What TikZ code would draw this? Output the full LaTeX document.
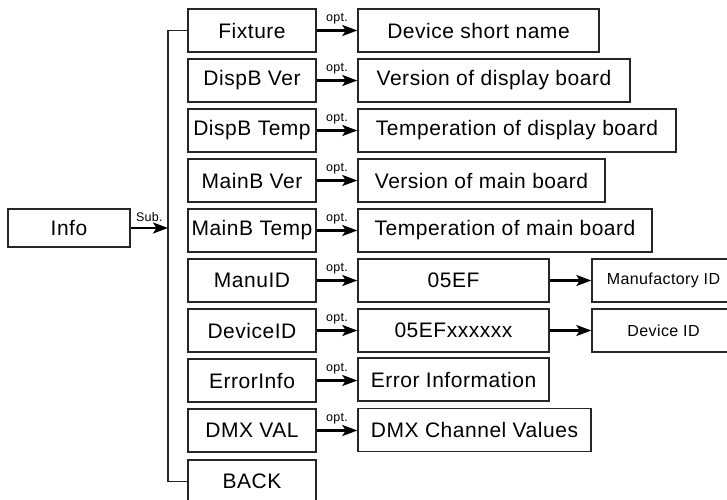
\documentclass[tikz,border=0pt]{standalone}
\usepackage{fontspec}
\setmainfont{Liberation Sans}[LetterSpace=2.5]
\usetikzlibrary{arrows.meta,calc}
\begin{document}
\begin{tikzpicture}[x=1pt,y=-1pt,
  box/.style={draw=black!85,line width=1.4pt,minimum height=43pt,inner sep=0pt,font=\fontsize{21}{23}\selectfont},
  smallbox/.style={box,font=\fontsize{16}{18}\selectfont},
  arr/.style={line width=2.3pt,-{Stealth[length=15pt,width=11pt,inset=3.5pt]}},
  lbl/.style={font=\fontsize{12.5}{13}\selectfont,inner sep=0pt,anchor=south,yshift=5pt},
  spine/.style={draw=black!85,line width=1.4pt}]
\useasboundingbox (0,0) rectangle (727,499);
% left
\node[box,minimum width=122pt,minimum height=38pt] (info) at (69,228) {Info};
% middle column
\node[box,minimum width=128pt] (m1) at (252,30.5) {Fixture};
\node[box,minimum width=128pt] (m2) at (252,80.5) {DispB Ver};
\node[box,minimum width=128pt] (m3) at (252,130.5) {DispB Temp};
\node[box,minimum width=128pt] (m4) at (252,180.5) {MainB Ver};
\node[box,minimum width=128pt] (m5) at (252,230.5) {MainB Temp};
\node[box,minimum width=128pt] (m6) at (252,280.5) {ManuID};
\node[box,minimum width=128pt] (m7) at (252,330.5) {DeviceID};
\node[box,minimum width=128pt] (m8) at (252,380.5) {ErrorInfo};
\node[box,minimum width=128pt] (m9) at (252,430.5) {DMX VAL};
\node[box,minimum width=128pt] (m10) at (252,481.5) {BACK};
% right column
\node[box,minimum width=241pt] (r1) at (478.5,30.5) {Device short name};
\node[box,minimum width=272pt] (r2) at (494,80.5) {Version of display board};
\node[box,minimum width=318pt] (r3) at (517,130.5) {Temperation of display board};
\node[box,minimum width=247pt] (r4) at (481.5,180.5) {Version of main board};
\node[box,minimum width=294pt] (r5) at (505,230.5) {Temperation of main board};
\node[box,minimum width=191pt] (r6) at (453.5,280.5) {05EF};
\node[box,minimum width=191pt] (r7) at (453.5,330.5) {05EFxxxxxx};
\node[box,minimum width=191pt] (r8) at (453.5,379.5) {Error Information};
\node[box,minimum width=233pt] (r9) at (474.5,430) {DMX Channel Values};
% far right
\node[smallbox,minimum width=143pt] (f6) at (663.5,280.5) {Manufactory ID};
\node[smallbox,minimum width=143pt] (f7) at (663.5,330.5) {Device ID};
% spine
\coordinate (sp) at (168,0);
\draw[spine] (m1.west) -- (m1.west -| sp) -- (m10.west -| sp) -- (m10.west);
\draw[arr] (info.east) -- (info.east -| sp) node[lbl,midway] {Sub.};
% opt arrows
\foreach \i in {1,...,9} {
  \draw[arr] (m\i.east) -- (m\i.east -| r\i.west) node[lbl,midway] {opt.};
}
\draw[arr] (r6.east) -- (f6.west);
\draw[arr] (r7.east) -- (f7.west);
\end{tikzpicture}
\end{document}
